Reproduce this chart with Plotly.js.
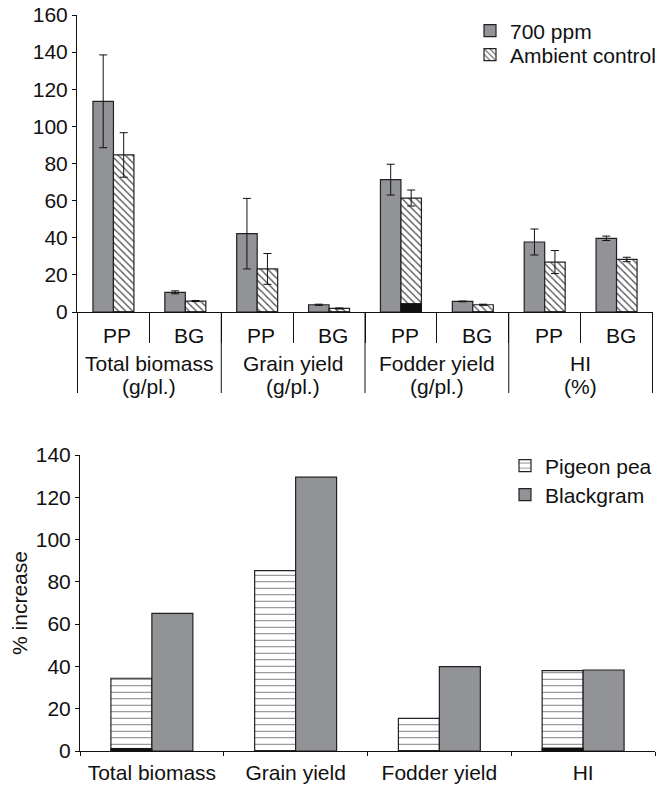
<!DOCTYPE html>
<html>
<head>
<meta charset="utf-8">
<script src="https://cdn.plot.ly/plotly-3.0.1.min.js"></script>
<style>html,body{margin:0;padding:0;background:#fff;}#chart{width:668px;height:786px;}</style>
</head>
<body>
<div id="chart"></div>
<script>
// ---- Top panel data ----
const groupNames = ['Total biomass', 'Grain yield', 'Fodder yield', 'HI'];
const groupUnits = ['(g/pl.)', '(g/pl.)', '(g/pl.)', '(%)'];
const crops = ['PP', 'BG'];
const ppm700 = [113.5, 10.6, 42.2, 3.9, 71.3, 5.7, 37.7, 39.7];
const ppm700Err = [25, 0.8, 19, 0.3, 8.3, 0.2, 7, 1.2];
const ambient = [84.6, 5.9, 23.2, 1.9, 61.4, 3.9, 26.9, 28.3];
const ambientErr = [12, 0.3, 8.3, 0.3, 4.3, 0.3, 6.2, 1.2];
const ambientDark = [0, 0, 0, 0, 4.5, 0, 0, 0];
const topTicks = [0, 20, 40, 60, 80, 100, 120, 140, 160];

// ---- Bottom panel data ----
const traits = ['Total biomass', 'Grain yield', 'Fodder yield', 'HI'];
const pigeonPea = [34.4, 85.3, 15.4, 38.0];
const blackgram = [65.1, 129.5, 39.9, 38.3];
const pigeonPeaDark = [1.2, 0, 0, 1.4];
const bottomTicks = [0, 20, 40, 60, 80, 100, 120, 140];

const FONT = 'Liberation Sans, Arial, Helvetica, sans-serif';
const GRAY = '#929397';
const EDGE = '#222';
const W = 668, H = 786;
const py = p => 1 - p / H;

const xTop = [];
groupNames.forEach(g => crops.forEach(c => xTop.push(g + ' ' + c)));

const traces = [
  {type: 'bar', x: xTop, y: ppm700, name: '700 ppm', xaxis: 'x', yaxis: 'y',
   offsetgroup: 'a', legend: 'legend',
   marker: {color: GRAY, line: {color: EDGE, width: 1.2}},
   error_y: {type: 'data', array: ppm700Err, color: '#111', thickness: 1, width: 4}},
  {type: 'bar', x: xTop, y: ambient, name: 'Ambient control', xaxis: 'x', yaxis: 'y',
   offsetgroup: 'b', legend: 'legend2',
   marker: {color: '#fff', line: {color: EDGE, width: 1.2},
            pattern: {shape: '\\', size: 5, solidity: 0.28, fgcolor: '#555', bgcolor: '#fff', fillmode: 'replace'}},
   error_y: {type: 'data', array: ambientErr, color: '#111', thickness: 1, width: 4}},
  {type: 'bar', x: xTop, y: ambientDark, name: 'dark', xaxis: 'x', yaxis: 'y',
   offsetgroup: 'b', showlegend: false, hoverinfo: 'skip',
   marker: {color: '#111', line: {color: '#111', width: 1}}},
  {type: 'bar', x: traits, y: pigeonPea, name: 'Pigeon pea', xaxis: 'x2', yaxis: 'y2',
   offsetgroup: 'p', legend: 'legend3',
   marker: {color: '#fff', line: {color: EDGE, width: 1.2},
            pattern: {shape: '-', size: 6.5, solidity: 0.15, fgcolor: '#777', bgcolor: '#fff', fillmode: 'replace'}}},
  {type: 'bar', x: traits, y: blackgram, name: 'Blackgram', xaxis: 'x2', yaxis: 'y2',
   offsetgroup: 'g', legend: 'legend4',
   marker: {color: GRAY, line: {color: EDGE, width: 1.2}}},
  {type: 'bar', x: traits, y: pigeonPeaDark, name: 'dark2', xaxis: 'x2', yaxis: 'y2',
   offsetgroup: 'p', showlegend: false, hoverinfo: 'skip',
   marker: {color: '#111', line: {color: '#111', width: 1}}}
];

const annotations = [];
xTop.forEach((xc, i) => {
  annotations.push({xref: 'x', yref: 'paper', x: xc, y: py(335), text: crops[i % 2],
    showarrow: false, xanchor: 'center', yanchor: 'middle', xshift: 4,
    font: {family: FONT, size: 21, color: '#111'}});
});
groupNames.forEach((g, k) => {
  annotations.push({xref: 'x', yref: 'paper', x: 2 * k + 0.5, y: py(363), text: g,
    showarrow: false, xanchor: 'center', yanchor: 'middle',
    font: {family: FONT, size: 21, color: '#111'}});
  annotations.push({xref: 'x', yref: 'paper', x: 2 * k + 0.5, y: py(386), text: groupUnits[k],
    showarrow: false, xanchor: 'center', yanchor: 'middle',
    font: {family: FONT, size: 21, color: '#111'}});
});

const shapes = [];
for (let k = 0; k <= groupNames.length; k++) {
  shapes.push({type: 'line', xref: 'x', yref: 'paper', x0: 2 * k - 0.5, x1: 2 * k - 0.5,
    y0: py(312), y1: py(393), line: {color: '#111', width: 1}});
}

const axisCommon = {showline: true, linecolor: '#111', linewidth: 1, ticks: 'outside',
  tickcolor: '#111', tickwidth: 1, showgrid: false, zeroline: false,
  tickfont: {family: FONT, size: 21, color: '#111'}};

const legendCommon = {bgcolor: 'rgba(0,0,0,0)', borderwidth: 0, xanchor: 'left', yanchor: 'middle',
  font: {family: FONT, size: 21, color: '#111'}};

const layout = {
  width: W, height: H,
  margin: {l: 0, r: 0, t: 0, b: 0},
  paper_bgcolor: '#fff', plot_bgcolor: 'rgba(0,0,0,0)',
  barmode: 'group', bargap: 0.43, bargroupgap: 0,
  font: {family: FONT, size: 21, color: '#111'},
  xaxis: Object.assign({}, axisCommon, {domain: [77 / W, 653 / W], anchor: 'y', type: 'category',
    showticklabels: false, tickson: 'boundaries', ticklen: 30, fixedrange: true}),
  yaxis: Object.assign({}, axisCommon, {domain: [py(312), py(15)], anchor: 'x', range: [0, 160],
    tickvals: topTicks, ticklen: 4}),
  xaxis2: Object.assign({}, axisCommon, {domain: [80 / W, 655 / W], anchor: 'y2', type: 'category',
    tickson: 'boundaries', ticklen: 4, ticklabelstandoff: 3}),
  yaxis2: Object.assign({}, axisCommon, {domain: [py(751), py(455)], anchor: 'x2', range: [0, 140],
    tickvals: bottomTicks, ticklen: 4,
    title: {text: '% increase', font: {family: FONT, size: 21, color: '#111'}, standoff: 2}}),
  legend: Object.assign({}, legendCommon, {x: 470 / W, y: py(31)}),
  legend2: Object.assign({}, legendCommon, {x: 470 / W, y: py(55)}),
  legend3: Object.assign({}, legendCommon, {x: 505 / W, y: py(466)}),
  legend4: Object.assign({}, legendCommon, {x: 505 / W, y: py(495)}),
  annotations: annotations,
  shapes: shapes
};

Plotly.newPlot('chart', traces, layout, {displayModeBar: false, staticPlot: true});
</script>
</body>
</html>
